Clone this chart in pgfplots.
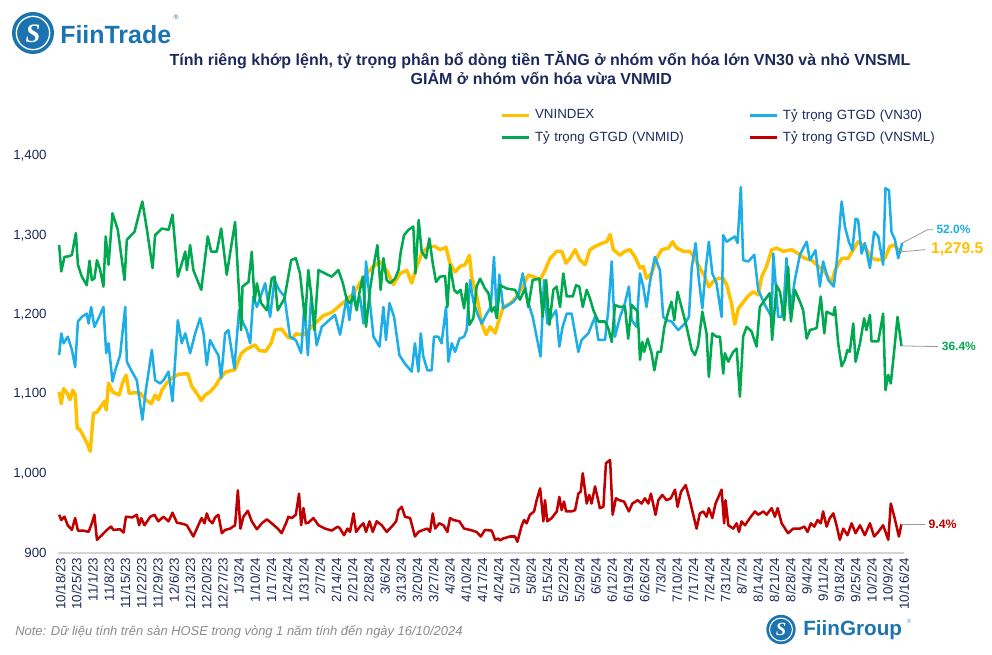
\documentclass[border=0pt]{standalone}
\usepackage{pgfplots}
\pgfplotsset{compat=1.18}
\usepackage{fontspec}
\setmainfont{Liberation Sans}
\newfontfamily\serifS{Liberation Serif}
\definecolor{cgold}{HTML}{FFC000}
\definecolor{cblue}{HTML}{1DAEE8}
\definecolor{cgreen}{HTML}{00A84F}
\definecolor{cred}{HTML}{C00000}
\definecolor{navy}{HTML}{1C2A5B}
\definecolor{logoblue}{HTML}{1B74B0}
\definecolor{notegray}{HTML}{8A8A8A}
\pgfplotsset{
  base/.style={
    scale only axis, width=634.5pt, height=297.75pt,
    at={(43.5pt,76.5pt)}, anchor=south west,
    xmin=-0.5, xmax=364.5,
  },
  every axis plot/.append style={line join=round},
}
\begin{document}
\begin{tikzpicture}
\path (0,0) rectangle (744pt,491.25pt);
% ---------- primary axis: VNINDEX ----------
\begin{axis}[base, ymin=900, ymax=1400, ytick={900,1000,...,1400},
  xtick={0,7,...,364},
  xticklabels={10/18/23,10/25/23,11/1/23,11/8/23,11/15/23,11/22/23,11/29/23,12/6/23,12/13/23,12/20/23,12/27/23,1/3/24,1/10/24,1/17/24,1/24/24,1/31/24,2/7/24,2/14/24,2/21/24,2/28/24,3/6/24,3/13/24,3/20/24,3/27/24,4/3/24,4/10/24,4/17/24,4/24/24,5/1/24,5/8/24,5/15/24,5/22/24,5/29/24,6/5/24,6/12/24,6/19/24,6/26/24,7/3/24,7/10/24,7/17/24,7/24/24,7/31/24,8/7/24,8/14/24,8/21/24,8/28/24,9/4/24,9/11/24,9/18/24,9/25/24,10/2/24,10/9/24,10/16/24},
  axis x line=bottom, axis y line=left, axis line style={-},
  y axis line style={draw=none}, x axis line style={draw=black!17, line width=0.9pt},
  major tick length=0pt,
  tick label style={font=\fontsize{10}{12}\selectfont, text=navy},
  xticklabel style={rotate=90, anchor=east, yshift=-1pt},
  yticklabel style={xshift=-5pt},
  clip=false,
  /pgf/number format/assume math mode=true,
  /pgf/number format/1000 sep={,},
]
\addplot[cgold, line width=2.6pt] coordinates {
(0,1103) (0.9,1088) (1.9,1107) (3.3,1102) (4.7,1093) (5.8,1105) (6.9,1100) (7.8,1057) (8.8,1056) (10.5,1047) (12.2,1037) (13.4,1028) (14.8,1076) (16.2,1077) (18.4,1086) (19.6,1091) (20.3,1080) (21.3,1114) (23.0,1103) (25.9,1099) (27.3,1114) (28.9,1124) (30.2,1101) (32.8,1102) (35.1,1101) (37.4,1093) (39.7,1088) (41.4,1099) (42.8,1093) (44.3,1105) (46.4,1114) (48.9,1121) (51.5,1125) (55.5,1126) (57.2,1110) (59.4,1101) (61.3,1092) (63.0,1099) (65.1,1103) (67.3,1110) (69.4,1120) (71.9,1128) (75.9,1131) (78.5,1151) (80.9,1157) (83.1,1160) (84.5,1162) (86.3,1155) (89.1,1154) (91.4,1164) (93.2,1181) (96.0,1182) (98.6,1172) (100.6,1170) (102.1,1176) (105.4,1175) (108.3,1183) (111.1,1191) (114.0,1199) (117.6,1203)
(121.2,1212) (124.1,1219) (127.0,1227) (129.8,1240) (132.7,1252) (135.6,1261) (138.5,1267) (141.3,1256) (144.2,1238) (147.1,1252) (150.0,1256) (152.1,1240) (154.3,1261) (156.4,1277) (159.3,1286) (162.2,1286) (164.3,1282) (166.9,1285) (168.6,1265) (170.8,1254) (173.0,1261) (175.1,1263) (177.0,1275) (178.0,1248) (180.2,1223) (182.3,1189) (184.2,1175) (185.9,1185) (188.1,1177) (189.5,1191) (191.6,1210) (194.5,1214) (197.4,1223) (200.0,1236) (202.4,1250) (204.6,1248) (207.5,1244) (209.6,1256) (211.8,1271) (214.7,1280) (216.8,1280) (218.7,1265) (220.4,1271) (222.6,1282) (224.7,1269) (226.9,1263) (229.0,1282) (231.2,1286) (234.1,1290) (236.2,1292) (237.7,1301) (239.1,1282) (242.0,1275)
(244.1,1280) (246.3,1282) (248.4,1273) (250.6,1259) (252.0,1261) (253.4,1246) (255.6,1252) (257.8,1271) (259.9,1282) (262.8,1284) (264.7,1292) (266.4,1284) (269.3,1280) (272.1,1280) (274.3,1271) (276.4,1259) (278.6,1248) (280.3,1235) (282.2,1242) (284.4,1246) (286.5,1246) (288.0,1238) (290.1,1214) (291.5,1188) (293.0,1208) (294.7,1214) (297.0,1223) (299.5,1229) (301.6,1225) (303.1,1248) (305.2,1261) (307.4,1282) (309.5,1284) (312.4,1280) (316.0,1282) (318.9,1277) (321.7,1271) (324.6,1269) (327.5,1261) (330.4,1254) (333.2,1240) (334.7,1256) (337.6,1271) (340.4,1271) (342.6,1282) (344.7,1292) (347.6,1286) (350.5,1271) (353.4,1269) (356.2,1271) (358.4,1286) (360.3,1288) (362.0,1282) (363.7,1279.5)
};
\draw[black!40, line width=0.6pt] (axis cs:363.7,1279.5) -- ++(17.5pt,1.5pt)
  node[right, inner sep=1pt, xshift=3pt, text=cgold, font=\bfseries\fontsize{11.7}{13}\selectfont] {1,279.5};
\end{axis}
% ---------- secondary axis: shares ----------
\begin{axis}[base, ymin=5, ymax=65.2, hide axis, clip=false,
  legend columns=2,
  legend cell align=left,
  legend style={at={(0.5177,1.13)}, anchor=north west, draw=none, fill=none,
    font=\fontsize{10}{12}\selectfont, text=navy,
    nodes={inner sep=1.5pt, text width=159pt},
    /tikz/row sep=4.5pt,
    /tikz/every odd column/.append style={column sep=2pt}},
  legend image code/.code={\draw[#1] (0pt,0pt) -- (20pt,0pt);},
]
\addlegendimage{cgold, line width=2.6pt}
\addlegendentry{VNINDEX}
\addplot[cblue, line width=1.9pt] coordinates {
(0.0,35.0) (0.9,38.3) (1.9,36.8) (3.7,37.8) (5.5,35.8) (6.9,33.2) (8.1,40.1) (9.8,40.8) (11.9,41.3) (12.7,39.8) (13.8,42.3) (15.2,39.3) (17.0,40.6) (19.1,42.3) (20.3,35.3) (21.3,36.8) (23.0,31.0) (24.2,32.7) (26.3,35.0) (28.5,42.3) (29.2,34.0) (31.1,32.7) (33.5,31.2) (35.9,25.2) (37.4,29.7) (40.0,35.8) (41.4,31.2) (43.6,30.7) (45.0,31.2) (47.2,32.5) (48.9,28.0) (51.2,40.3) (52.9,36.8) (54.4,38.3) (56.5,35.3) (58.7,38.3) (60.8,40.6) (62.3,38.3) (63.7,33.5) (65.1,37.3) (67.3,35.8) (68.7,35.0) (69.9,31.5) (71.6,38.3) (73.0,38.8) (75.6,33.0) (77.6,41.8) (79.5,39.8) (80.9,38.8) (82.4,36.8) (83.8,43.9) (85.3,42.3) (88.9,45.9) (91.0,40.8) (92.9,46.4) (94.9,44.9) (97.2,43.9) (99.6,37.8) (102.1,37.3) (104.4,35.3) (105.8,42.6) (107.3,35.0) (108.7,43.9) (111.1,36.5) (113.3,39.3) (119.0,41.1)
(121.2,38.1) (122.6,40.8) (124.1,43.9) (125.2,40.3) (127.0,45.4) (128.1,42.3) (129.8,43.9) (131.3,39.8) (132.4,49.2) (134.1,42.9) (135.6,37.8) (138.2,36.3) (139.9,42.3) (141.0,37.3) (142.5,42.9) (144.5,40.8) (146.8,35.0) (149.2,33.7) (152.1,32.5) (153.5,36.8) (155.0,32.5) (156.0,38.3) (157.1,34.8) (158.9,32.7) (160.7,32.7) (161.7,37.8) (163.6,37.8) (165.0,36.8) (166.9,42.3) (167.9,34.0) (169.4,36.8) (170.8,35.5) (172.7,37.5) (174.7,37.8) (175.8,38.8) (177.3,46.4) (178.7,43.1) (180.4,41.3) (182.3,39.8) (184.5,41.3) (186.2,42.3) (187.6,49.9) (188.8,40.8) (189.9,47.2) (191.6,42.1) (193.8,42.6) (196.0,43.1) (198.1,44.1) (200.0,47.4) (202.0,43.4) (204.3,40.8) (206.0,37.8) (207.7,34.8) (209.2,46.4) (210.6,39.8) (212.5,40.8) (214.4,41.8) (215.8,36.3) (217.2,39.3) (219.0,41.3) (221.1,41.3) (222.1,39.3) (224.0,35.5) (225.4,37.3) (228.3,38.3) (231.2,40.8) (232.6,37.3) (235.5,37.3) (236.9,41.8) (238.4,49.2) (239.8,37.8) (242.0,40.8)
(244.1,42.9) (245.8,45.4) (247.0,40.3) (249.1,39.3) (250.6,47.4) (252.0,45.4) (253.4,42.3) (254.9,46.1) (257.0,49.9) (259.2,47.9) (260.6,40.8) (262.1,40.3) (264.2,40.1) (267.1,38.8) (270.0,39.8) (271.7,40.8) (272.9,48.2) (274.6,52.0) (276.0,46.4) (277.5,42.1) (278.9,47.9) (280.3,52.2) (281.8,47.4) (283.6,45.9) (285.8,40.8) (286.5,53.2) (288.0,52.2) (291.5,53.0) (292.7,52.0) (294.1,60.5) (295.1,49.4) (297.3,49.2) (299.9,50.2) (301.6,44.9) (304.5,42.6) (307.4,40.8) (308.1,50.4) (309.1,45.9) (310.2,40.8) (311.7,40.8) (312.8,43.9) (313.8,49.7) (315.3,41.3) (317.4,46.4) (319.6,50.2) (321.0,51.2) (322.5,52.2) (323.9,49.4) (326.3,50.9) (328.2,45.4) (329.6,49.2) (331.8,46.4) (334.2,45.4) (335.4,48.9) (337.6,58.3) (339.0,54.5) (340.7,52.2) (342.2,50.9) (343.6,55.7) (344.7,55.5) (346.2,50.4) (347.6,52.0) (349.8,48.2) (351.6,53.7) (353.4,53.0) (355.5,48.7) (356.5,60.3) (358.0,60.0) (359.1,53.7) (360.6,52.5) (362.0,49.7) (363.7,52.0)
};
\addlegendentry{Tỷ trọng GTGD (VN30)}
\addplot[cgreen, line width=1.9pt] coordinates {
(0.0,51.7) (0.9,47.7) (2.3,49.9) (4.3,50.0) (5.5,50.2) (7.2,53.5) (8.1,48.7) (9.8,46.9) (11.9,45.6) (13.1,49.3) (14.1,46.4) (15.2,46.6) (16.3,49.4) (17.7,47.9) (19.1,45.4) (20.1,53.0) (21.3,48.7) (23.0,56.5) (25.3,54.0) (28.2,46.4) (29.2,52.5) (32.5,53.7) (34.5,56.5) (35.9,58.3) (37.8,54.2) (40.3,48.2) (41.4,53.2) (44.3,54.2) (47.2,54.0) (48.9,56.3) (51.2,46.9) (52.9,48.9) (54.4,50.7) (55.1,47.9) (56.5,51.7) (57.9,47.9) (61.3,44.9) (64.1,53.0) (65.6,50.7) (68.0,50.7) (69.9,54.2) (72.3,47.2) (75.9,55.2) (78.5,38.8) (79.1,45.4) (81.7,46.1) (83.1,50.7) (84.3,43.1) (85.3,45.9) (87.1,42.9) (89.6,41.8) (91.7,46.6) (92.9,46.9) (94.3,41.8) (97.2,43.6) (100.1,49.4) (102.1,49.7) (103.9,47.4) (106.1,40.3) (107.5,47.9) (109.0,43.4) (110.1,38.8) (111.9,47.9) (114.7,47.4) (117.6,46.9) (120.5,47.9)
(122.4,45.9) (124.1,43.4) (125.5,42.9) (127.0,43.9) (128.4,41.8) (129.5,44.4) (131.0,46.9) (132.4,39.3) (134.1,44.9) (135.6,48.4) (137.3,51.7) (138.7,44.9) (139.9,49.7) (141.3,46.4) (142.8,45.9) (144.9,46.6) (146.4,47.9) (147.4,50.7) (148.8,53.2) (150.7,54.0) (152.8,54.5) (153.7,47.4) (155.1,55.5) (156.4,50.7) (158.3,49.7) (159.7,52.7) (161.2,48.9) (162.6,46.1) (164.3,46.9) (166.5,47.0) (167.5,42.3) (168.6,48.7) (170.4,44.9) (171.8,44.4) (173.2,44.9) (174.7,42.1) (175.8,45.9) (177.0,39.6) (178.7,40.6) (180.1,45.4) (181.6,46.6) (183.7,45.1) (185.2,44.4) (186.6,41.6) (187.8,42.3) (188.8,40.6) (190.2,45.6) (193.1,45.1) (196.7,44.9) (198.8,43.4) (201.0,45.1) (202.4,42.3) (204.3,46.4) (207.2,46.6) (208.6,40.8) (210.1,46.4) (211.5,39.6) (213.2,44.9) (214.6,45.4) (216.1,42.3) (217.5,47.4) (219.0,43.9) (221.6,43.9) (223.0,45.6) (224.4,45.4) (225.9,42.3) (227.6,44.9) (229.0,43.6) (230.5,41.8) (232.6,40.1) (235.5,40.1) (236.9,39.1) (238.4,37.0) (239.8,42.6) (242.0,42.3)
(244.1,42.4) (245.5,37.5) (247.0,42.6) (249.6,41.6) (250.6,34.3) (251.6,37.0) (252.4,35.5) (253.9,37.5) (255.6,35.3) (256.8,32.7) (258.2,35.5) (259.6,35.5) (261.1,39.3) (262.8,41.6) (264.2,43.1) (265.4,40.3) (266.8,44.6) (268.5,42.3) (270.7,39.3) (272.9,35.8) (274.3,35.0) (275.7,36.5) (277.5,41.6) (279.3,38.3) (280.3,31.7) (281.8,38.3) (283.6,37.8) (285.1,37.8) (286.5,32.2) (287.2,35.3) (288.7,34.0) (290.8,35.5) (292.3,36.0) (293.7,28.7) (295.1,37.8) (296.6,39.3) (298.7,38.6) (300.9,36.3) (302.3,42.3) (304.5,43.4) (306.6,44.4) (307.6,37.3) (309.5,45.6) (311.0,44.6) (312.8,40.3) (314.5,48.4) (315.7,40.1) (317.4,44.9) (319.6,43.1) (321.0,41.8) (322.5,37.5) (323.9,38.8) (326.8,39.1) (328.6,43.9) (330.1,38.3) (331.1,41.6) (334.0,41.1) (334.7,42.3) (336.1,36.8) (337.6,33.3) (339.0,34.3) (340.1,35.8) (341.1,35.5) (342.6,39.8) (343.6,34.0) (345.5,36.8) (347.3,40.6) (348.3,38.8) (349.8,41.1) (350.5,37.1) (353.4,37.1) (355.5,41.3) (356.5,29.7) (357.7,32.0) (358.8,30.7) (360.3,35.8) (361.7,40.8) (363.4,36.4)
};
\addlegendentry{Tỷ trọng GTGD (VNMID)}
\addplot[cred, line width=1.9pt] coordinates {
(0.0,10.8) (0.9,10.0) (2.3,10.5) (3.7,9.2) (5.5,8.5) (6.9,10.3) (8.1,8.4) (10.5,8.4) (12.7,8.2) (14.1,9.5) (15.2,10.8) (16.3,7.0) (18.4,7.7) (20.6,8.5) (22.4,9.0) (23.4,8.5) (26.3,8.6) (27.8,8.1) (28.8,10.5) (31.6,10.4) (33.5,10.8) (34.5,9.2) (35.4,10.3) (36.8,9.2) (39.3,10.5) (41.1,10.8) (42.8,9.8) (45.0,10.5) (47.2,9.8) (48.9,11.1) (50.8,9.6) (53.6,9.4) (55.1,9.2) (57.9,7.5) (59.4,8.7) (60.8,9.8) (61.5,10.3) (62.7,9.5) (63.7,11.0) (64.7,10.0) (66.1,9.5) (67.3,10.4) (68.7,10.8) (70.2,8.0) (71.6,8.5) (73.8,8.7) (75.9,9.2) (77.1,14.5) (78.2,8.7) (79.5,10.5) (81.4,11.4) (83.1,9.8) (85.3,8.6) (87.4,9.5) (89.6,10.1) (91.7,9.5) (94.3,8.7) (96.0,8.0) (98.2,9.8) (98.9,10.5) (100.4,10.3) (102.1,10.8) (103.5,14.0) (104.4,9.2) (105.4,11.8) (106.4,9.5) (107.5,9.6) (109.7,10.3) (111.9,9.2) (114.7,8.7) (117.6,8.4) (120.2,9.0)
(121.2,8.7) (122.9,7.7) (124.4,8.7) (125.5,8.2) (127.0,11.0) (128.1,8.2) (129.8,9.0) (131.3,9.5) (132.4,8.2) (133.9,9.8) (135.3,8.2) (137.0,9.8) (139.2,9.2) (141.3,8.2) (143.5,9.0) (145.4,9.8) (146.4,11.5) (147.8,12.0) (149.2,10.5) (151.4,10.3) (153.5,7.5) (155.0,8.2) (157.1,8.5) (158.9,8.7) (160.0,8.2) (161.2,11.0) (162.2,8.7) (164.0,9.5) (165.8,9.2) (167.5,8.2) (168.6,10.3) (170.1,10.0) (172.7,9.8) (174.7,8.7) (177.3,8.5) (180.1,8.2) (181.9,7.5) (183.7,8.5) (186.6,8.4) (188.1,7.0) (189.5,7.2) (190.2,6.9) (191.6,7.2) (194.5,7.5) (196.7,7.5) (197.7,6.7) (199.6,9.2) (200.6,10.0) (201.7,9.5) (203.1,10.8) (204.9,11.3) (206.0,13.0) (207.5,14.8) (208.9,9.8) (209.6,13.0) (210.6,9.8) (212.5,10.3) (214.7,11.3) (215.8,13.5) (216.8,11.5) (217.8,12.8) (218.7,11.3) (221.1,11.3) (222.6,11.5) (224.0,14.0) (225.0,14.3) (225.9,17.1) (227.6,12.5) (228.7,13.8) (229.7,12.5) (231.2,15.1) (233.3,11.8) (234.8,12.0) (235.9,18.6) (237.7,19.1) (238.8,10.8) (240.2,13.3) (241.7,13.0) (243.7,12.8)
(245.8,11.3) (247.3,12.5) (249.6,13.0) (251.3,12.5) (252.7,13.3) (254.2,12.5) (255.3,14.0) (257.3,10.8) (258.5,13.0) (260.2,13.8) (262.1,13.0) (263.9,13.3) (265.7,14.6) (266.8,12.0) (268.3,14.3) (270.3,15.3) (272.1,13.0) (273.1,11.5) (275.0,8.7) (276.4,11.0) (277.9,11.3) (279.3,10.5) (280.3,11.8) (281.8,10.3) (283.2,12.5) (285.8,14.6) (286.9,9.5) (287.5,13.0) (288.7,9.2) (290.8,8.7) (292.3,9.5) (293.3,8.2) (294.4,9.8) (295.9,9.2) (298.0,10.3) (300.2,11.3) (301.6,10.8) (303.8,11.3) (305.2,10.8) (307.4,11.8) (308.8,10.5) (310.0,11.8) (311.7,9.5) (314.5,8.0) (316.7,8.7) (319.6,8.7) (321.5,9.0) (322.9,8.2) (324.3,9.5) (325.8,9.0) (327.2,10.0) (328.6,9.5) (329.6,11.3) (331.1,9.0) (332.5,10.3) (334.0,11.0) (335.4,9.2) (336.8,7.0) (338.3,8.7) (340.1,7.7) (341.9,9.5) (343.6,8.0) (345.5,9.2) (347.6,7.7) (349.8,9.5) (351.6,7.5) (353.4,8.2) (355.5,9.2) (357.7,7.0) (358.8,12.5) (360.3,10.5) (361.3,9.0) (362.3,7.5) (363.4,9.4)
};
\addlegendentry{Tỷ trọng GTGD (VNSML)}
\draw[black!40, line width=0.6pt] (axis cs:363.7,52.0) -- ++(19pt,10pt) -- ++(4.5pt,0pt)
  node[right, inner sep=1pt, xshift=1pt, text=cblue, font=\bfseries\fontsize{9}{10}\selectfont] {52.0\%};
\draw[black!40, line width=0.6pt] (axis cs:363.4,36.4) -- ++(27.5pt,-0.5pt)
  node[right, inner sep=1pt, xshift=1.5pt, text=cgreen, font=\bfseries\fontsize{9}{10}\selectfont] {36.4\%};
\draw[black!40, line width=0.6pt] (axis cs:363.4,9.4) -- ++(17.5pt,0pt)
  node[right, inner sep=1pt, xshift=1.5pt, text=cred, font=\bfseries\fontsize{9.2}{10}\selectfont] {9.4\%};
\end{axis}
% ---------- titles, logos, note ----------
\node[text=navy, font=\bfseries\fontsize{12}{14}\selectfont] at (405pt,446.25pt)
  {Tính riêng khớp lệnh, tỷ trọng phân bổ dòng tiền TĂNG ở nhóm vốn hóa lớn VN30 và nhỏ VNSML};
\node[text=navy, font=\bfseries\fontsize{12}{14}\selectfont] at (406pt,433pt)
  {GIẢM ở nhóm vốn hóa vừa VNMID};
% FiinTrade logo
\fill[logoblue] (24.75pt,466.5pt) circle (15.75pt);
\draw[white, line width=1pt] (24.75pt,466.5pt) circle (12.5pt);
\node[text=white, font=\serifS\bfseries\itshape\fontsize{20}{20}\selectfont] at (24.75pt,466.2pt) {S};
\node[anchor=west, inner sep=0pt, text=logoblue, font=\bfseries\fontsize{18.7}{20}\selectfont] at (45pt,465.5pt) {FiinTrade};
\node[inner sep=0pt, text=logoblue, font=\fontsize{5}{6}\selectfont] at (132pt,478.5pt) {®};
% FiinGroup logo
\fill[logoblue] (585.75pt,19.1pt) circle (11pt);
\draw[white, line width=0.8pt] (585.75pt,19.1pt) circle (8.6pt);
\node[text=white, font=\serifS\bfseries\itshape\fontsize{14}{14}\selectfont] at (585.75pt,18.9pt) {S};
\node[anchor=west, inner sep=0pt, text=logoblue, font=\bfseries\fontsize{15.5}{17}\selectfont] at (602.25pt,18.8pt) {FiinGroup};
\node[inner sep=0pt, text=logoblue!70, font=\fontsize{4.5}{5}\selectfont] at (681.75pt,25.5pt) {®};
% note
\node[anchor=west, inner sep=0pt, text=notegray, font=\itshape\fontsize{9.7}{11}\selectfont] at (11.25pt,17.25pt)
  {Note: Dữ liệu tính trên sàn HOSE trong vòng 1 năm tính đến ngày 16/10/2024};
\pgfresetboundingbox
\path (0,0) rectangle (744pt,491.25pt);
\end{tikzpicture}
\end{document}
